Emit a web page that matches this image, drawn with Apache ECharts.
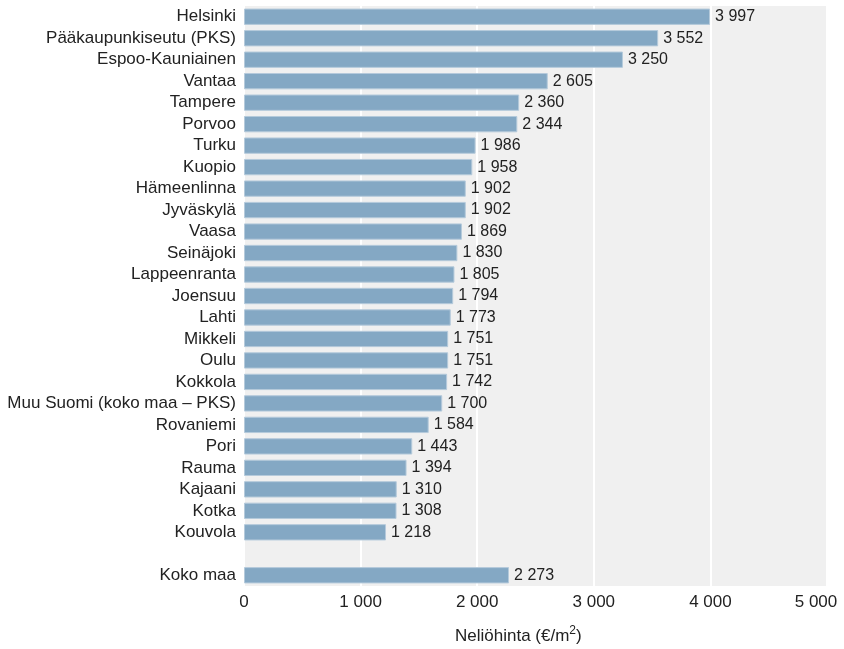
<!DOCTYPE html>
<html><head><meta charset="utf-8">
<script src="https://cdn.jsdelivr.net/npm/echarts@6/dist/echarts.min.js"></script>
<style>html,body{margin:0;padding:0;background:#fff;overflow:hidden}#c{width:844px;height:649px}</style>
</head><body><div id="c"></div>
<script>
const categories = ["Helsinki","Pääkaupunkiseutu (PKS)","Espoo-Kauniainen","Vantaa","Tampere","Porvoo","Turku","Kuopio","Hämeenlinna","Jyväskylä","Vaasa","Seinäjoki","Lappeenranta","Joensuu","Lahti","Mikkeli","Oulu","Kokkola","Muu Suomi (koko maa – PKS)","Rovaniemi","Pori","Rauma","Kajaani","Kotka","Kouvola","","Koko maa"];
const values = [3997,3552,3250,2605,2360,2344,1986,1958,1902,1902,1869,1830,1805,1794,1773,1751,1751,1742,1700,1584,1443,1394,1310,1308,1218,null,2273];
const xTicks = [0,1000,2000,3000,4000,5000];
const axisTitleMain = "Neliöhinta (€/m";
const axisTitleSup = "2";
const FONT = "'Liberation Sans',Arial,sans-serif";
function fmt(v){ return String(Math.round(v)).replace(/\B(?=(\d{3})+(?!\d))/g,' '); }
const xMax = xTicks[xTicks.length-1];
const chart = echarts.init(document.getElementById('c'));
chart.setOption({
  animation:false,
  textStyle:{fontFamily:FONT},
  grid:{left:244,right:17,top:6,bottom:63,show:true,backgroundColor:'#f0f0f0',borderWidth:0,containLabel:false,outerBoundsMode:'none'},
  xAxis:{type:'value',min:xTicks[0],max:xMax,interval:1000,
    axisLine:{show:false},axisTick:{show:false},
    splitLine:{show:true,lineStyle:{color:'#ffffff',width:2}},
    axisLabel:{formatter:v=> v===xMax ? '{m|'+fmt(v)+'}' : fmt(v),color:'#222',fontSize:17,fontFamily:FONT,margin:8,
      rich:{m:{fontSize:17,fontFamily:FONT,color:'#222',padding:[0,22,0,0]}}}},
  yAxis:{type:'category',data:categories,inverse:true,
    axisLine:{show:false},axisTick:{show:false},splitLine:{show:false},
    axisLabel:{interval:0,color:'#222',fontSize:17,fontFamily:FONT,margin:8}},
  graphic:[{type:'text',left:455,top:625,style:{text:'{a|'+axisTitleMain+'}{s|'+axisTitleSup+'}{a|)}',
    rich:{a:{fontSize:17,fontFamily:FONT,fill:'#222',color:'#222',verticalAlign:'bottom',lineHeight:20},
          s:{fontSize:12,fontFamily:FONT,fill:'#222',color:'#222',verticalAlign:'top',lineHeight:20,padding:[0,0,6,0]}}}}],
  series:[{type:'bar',data:values,barCategoryGap:'24%',
    itemStyle:{color:'#84a8c4',borderColor:'#b5cadb',borderWidth:1},
    label:{show:true,position:'right',distance:5,formatter:p=>fmt(p.value),color:'#222',fontSize:16,fontFamily:FONT}}]
});
</script></body></html>
